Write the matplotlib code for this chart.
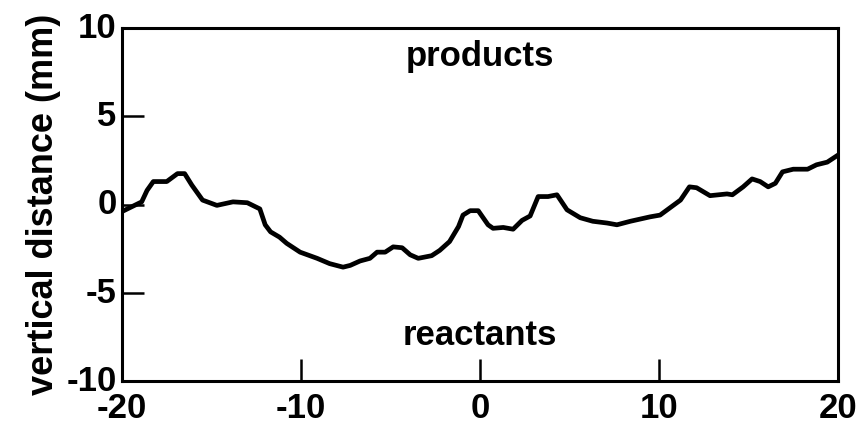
import matplotlib
matplotlib.use("Agg")
import matplotlib.pyplot as plt
import matplotlib.transforms as mtransforms

# profile of the reaction front
x_mm = [-20.0, -18.9, -18.6, -18.25, -17.5, -16.9, -16.5, -16.1, -15.5, -14.7,
        -13.8, -13.0, -12.3, -12.0, -11.7, -11.2, -10.8, -10.05, -9.1, -8.4,
        -7.65, -7.25, -6.7, -6.15, -5.75, -5.3, -4.85, -4.35, -3.9, -3.45,
        -2.7, -2.25, -1.7, -1.2, -0.95, -0.55, -0.1, 0.45, 0.73,
        1.3, 1.85, 2.35, 2.8, 3.25, 3.8, 4.3, 4.86, 5.6, 6.3,
        7.1, 7.65, 8.4, 9.5, 10.06, 11.2, 11.7, 12.1, 12.85, 13.8,
        14.1, 14.7, 15.2, 15.65, 16.1, 16.5, 16.9, 17.5, 18.3, 18.8,
        19.4, 20.0]
y_mm = [-0.4, 0.15, 0.8, 1.3, 1.3, 1.75, 1.75, 1.1, 0.25, -0.05,
        0.15, 0.1, -0.25, -1.15, -1.55, -1.85, -2.2, -2.7, -3.05, -3.35,
        -3.55, -3.45, -3.2, -3.05, -2.7, -2.7, -2.4, -2.45, -2.85, -3.05,
        -2.9, -2.6, -2.1, -1.25, -0.6, -0.35, -0.35, -1.15, -1.35,
        -1.3, -1.4, -0.9, -0.65, 0.45, 0.45, 0.55, -0.3, -0.75, -0.95,
        -1.05, -1.15, -0.95, -0.7, -0.6, 0.25, 1.0, 0.95, 0.5, 0.6,
        0.55, 1.0, 1.45, 1.3, 1.0, 1.2, 1.85, 2.0, 2.0, 2.25,
        2.4, 2.8]

xticks = [-20, -10, 0, 10, 20]
yticks = [-10, -5, 0, 5, 10]

plt.rcParams['font.family'] = ['Liberation Sans', 'DejaVu Sans']
plt.rcParams['font.weight'] = 'bold'
plt.rcParams['axes.unicode_minus'] = False

fig = plt.figure(figsize=(8.64, 4.38), dpi=100)
ax = fig.add_axes([122/864, 1 - 381/438, 716/864, 353/438])

ax.plot(x_mm, y_mm, color='black', lw=3.4, solid_joinstyle='round',
        solid_capstyle='round')

ax.set_xlim(-20, 20)
ax.set_ylim(-10, 10)
ax.set_xticks(xticks)
ax.set_yticks(yticks)
ax.tick_params(direction='in', length=16, width=1.8, labelsize=25)
ax.tick_params(axis='x', pad=8)
ax.tick_params(axis='y', pad=4)
for sp in ax.spines.values():
    sp.set_linewidth(2.2)

# y tick labels sit a little above their ticks in the original
shift = mtransforms.ScaledTranslation(0, 3/100, fig.dpi_scale_trans)
for lab in ax.get_yticklabels():
    lab.set_transform(lab.get_transform() + shift)

ax.set_ylabel('vertical distance (mm)', fontsize=26, fontweight='bold', labelpad=4)

ax.text(0, 8.4, 'products', ha='center', va='center', fontsize=25, fontweight='bold')
ax.text(0, -7.4, 'reactants', ha='center', va='center', fontsize=25, fontweight='bold')

fig.savefig('out.png', dpi=100)
